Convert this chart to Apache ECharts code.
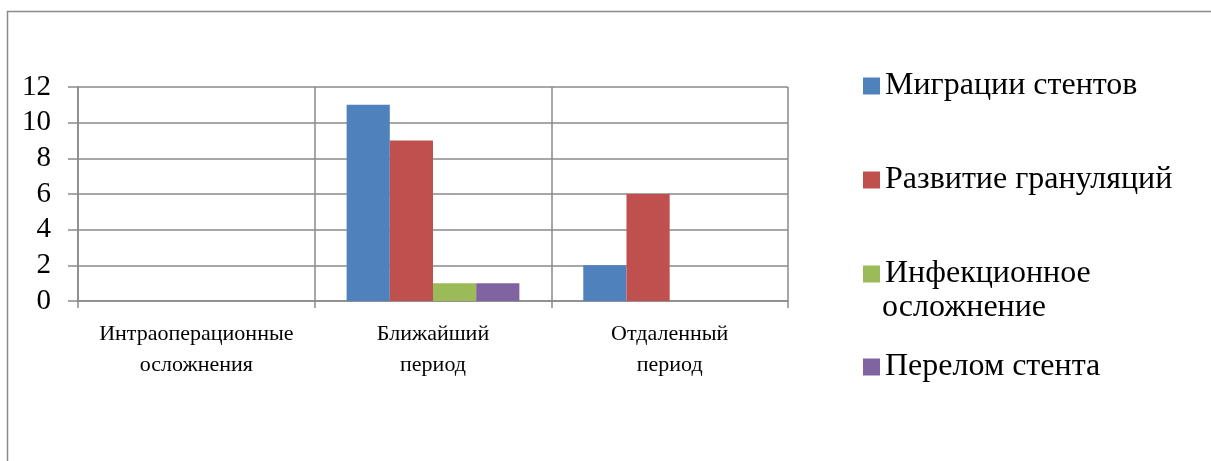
<!DOCTYPE html>
<html><head><meta charset="utf-8">
<script src="https://cdn.jsdelivr.net/npm/echarts@6/dist/echarts.min.js"></script>
<style>html,body{margin:0;padding:0;background:#fff}#c{width:1211px;height:461px}</style>
</head><body><div id="c"></div>
<script>
const categories = ['Интраоперационные\nосложнения', 'Ближайший\nпериод', 'Отдаленный\nпериод'];
const seriesNames = ['Миграции стентов', 'Развитие грануляций', 'Инфекционное осложнение', 'Перелом стента'];
const migration = [0, 11, 2];
const granulation = [0, 9, 6];
const infection = [0, 1, 0];
const fracture = [0, 1, 0];
const colors = ['#4F81BD', '#C0504D', '#9BBB59', '#8064A2'];
const yTicks = [0, 2, 4, 6, 8, 10, 12];

const values = [migration, granulation, infection, fracture];
const legendCenters = [83, 177, 271, 364];
const serif = 'Liberation Serif';
const gridColor = '#8a8a8a';

const chart = echarts.init(document.getElementById('c'));
chart.setOption({
  animationDuration: 1,
  grid: {left: 78, top: 87, width: 710, bottom: 160, containLabel: false},
  xAxis: {
    type: 'category', data: categories,
    axisLine: {lineStyle: {color: gridColor, width: 1.5}},
    axisTick: {show: true, length: 7, interval: 0, lineStyle: {color: gridColor, width: 1.5}},
    splitLine: {show: true, interval: 0, lineStyle: {color: gridColor, width: 1.5}},
    axisLabel: {interval: 0, margin: 18, fontFamily: serif, fontSize: 22, lineHeight: 31, color: '#000'}
  },
  yAxis: {
    type: 'value', min: yTicks[0], max: yTicks[yTicks.length - 1], interval: 2,
    axisLine: {show: true, lineStyle: {color: gridColor, width: 1.5}},
    axisTick: {show: true, length: 10, lineStyle: {color: gridColor, width: 1.5}},
    splitLine: {show: true, lineStyle: {color: gridColor, width: 1.5}},
    axisLabel: {margin: 27, fontFamily: serif, fontSize: 29, color: '#000'}
  },
  legend: seriesNames.map((n, i) => ({
    data: [n], left: 858, top: legendCenters[i] - 20, orient: 'vertical',
    itemWidth: 17, itemHeight: 17, itemGap: 7, icon: 'rect',
    formatter: name => name === 'Инфекционное осложнение' ? 'Инфекционное' : name,
    textStyle: {fontFamily: serif, fontSize: 32, lineHeight: 36, color: '#000'}
  })),
  graphic: [
    {type: 'text', left: 882, top: legendCenters[2] + 39 - 20,
     style: {text: 'осложнение', fontFamily: serif, fontSize: 32, lineHeight: 36, fill: '#000'}},
    {type: 'polyline', silent: true, shape: {points: [[7.5, 470], [7.5, 11.5], [1220, 11.5]]},
     style: {stroke: '#8a8a8a', lineWidth: 1.5, fill: null}}
  ],
  series: seriesNames.map((n, i) => ({
    name: n, type: 'bar', data: values[i], barGap: 0, barCategoryGap: '27%',
    itemStyle: {color: colors[i]}
  }))
});
</script></body></html>
